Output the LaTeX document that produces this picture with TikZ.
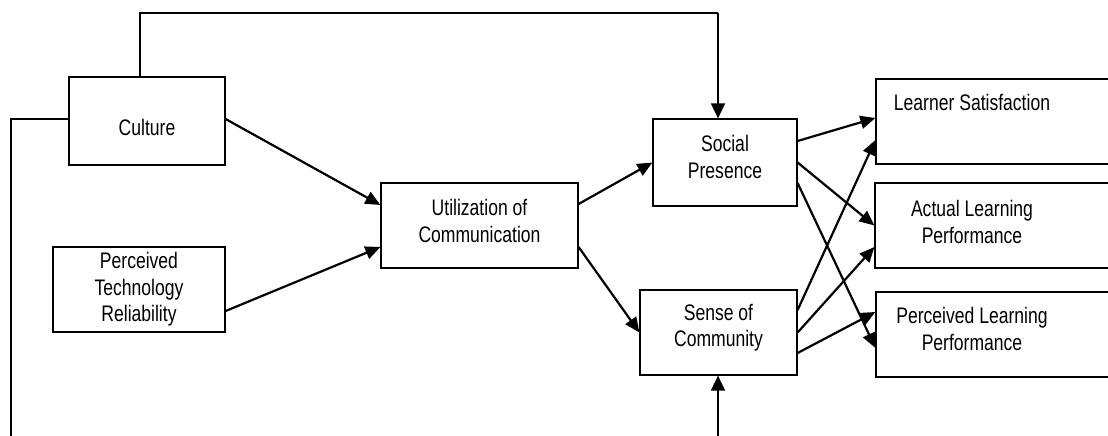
\documentclass[tikz,border=0pt]{standalone}
\usepackage{fontspec}
\setmainfont{Liberation Sans}[FakeStretch=0.78]
\usetikzlibrary{arrows.meta}
\begin{document}
\begin{tikzpicture}[x=1pt,y=-1pt,
  box/.style={draw, line width=1.2pt, align=center, inner sep=0pt, font=\fontsize{22.5}{26.5}\selectfont},
  lbl/.style={align=center, inner sep=0pt, font=\fontsize{22.5}{26.5}\selectfont},
  arr/.style={line width=2.2pt, -{Triangle[length=15pt,width=13pt]}},
  conn/.style={line width=1.6pt},
  varr/.style={line width=1.8pt, -{Triangle[length=15pt,width=14pt]}}]
\useasboundingbox (0,0) rectangle (1108,436);
\clip (0,0) rectangle (1108,436);
\node[box, minimum width=156pt, minimum height=88pt, text height=29pt] (culture) at (147,121) {Culture};
\node[box, minimum width=172pt, minimum height=85pt] (ptr) at (139,289.5) {Perceived\\Technology\\Reliability};
\node[box, minimum width=197pt, minimum height=85pt, text depth=9pt] (util) at (479.5,225.5) {Utilization of\\Communication};
\node[box, minimum width=144pt, minimum height=87pt, text depth=11pt] (sp) at (725,162.5) {Social\\Presence};
\node[box, minimum width=157pt, minimum height=85pt, text depth=14pt] (soc) at (718.5,332.5) {Sense of\\Community};
\node[box, minimum width=274pt, minimum height=85pt] (lsbox) at (1013,121.5) {};
\node[box, minimum width=275pt, minimum height=85pt] (alpbox) at (1012.5,225.5) {};
\node[box, minimum width=274pt, minimum height=85pt] (plpbox) at (1013,334.5) {};
\node[lbl] (ls) at (972,102) {Learner Satisfaction};
\node[lbl] (alp) at (972,222) {Actual Learning\\Performance};
\node[lbl] (plp) at (972,329) {Perceived Learning\\Performance};
\draw[arr] ([yshift=2pt]culture.east) -- ([yshift=20.5pt]util.west);
\draw[arr] ([yshift=-21.5pt]ptr.east) -- ([yshift=-21.5pt]util.west);
\draw[arr] ([yshift=21.5pt]util.east) -- (sp.west);
\draw[arr] ([yshift=-21.5pt]util.east) -- (soc.west);
\draw[arr] ([yshift=21.5pt]sp.east) -- ([yshift=3.5pt]lsbox.west);
\draw[arr] (sp.east) -- (alpbox.west);
\draw[arr] ([yshift=-20.5pt]sp.east) -- ([yshift=-13.5pt]plpbox.west);
\draw[arr] ([yshift=22.5pt]soc.east) -- ([yshift=-18.5pt]lsbox.west);
\draw[arr] (soc.east) -- ([yshift=-21.5pt]alpbox.west);
\draw[arr] ([yshift=-20.5pt]soc.east) -- ([yshift=22.5pt]plpbox.west);
\coordinate (tr) at (718,13);
\coordinate (bl) at (11,440);
\coordinate (br) at (718,440);
\draw[conn] ([xshift=-7pt]culture.north) |- (tr);
\draw[varr] (tr) -- ([xshift=-7pt]sp.north);
\draw[conn] ([yshift=2pt]culture.west) -| (bl);
\draw[varr] (br) -- ([xshift=-0.5pt]soc.south);
\end{tikzpicture}
\end{document}
